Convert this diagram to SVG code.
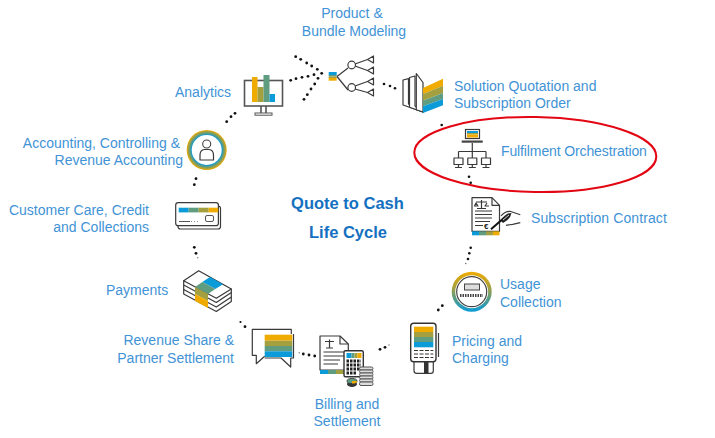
<svg xmlns="http://www.w3.org/2000/svg" width="715" height="438" viewBox="0 0 715 438">
<style>
.t{font-family:"Liberation Sans",Arial,sans-serif;font-size:14px;fill:#3f93d6}
.h{font-family:"Liberation Sans",Arial,sans-serif;font-size:16.5px;font-weight:bold;fill:#1470c0;text-anchor:middle}
.i{fill:none;stroke:#3a3a3a;stroke-width:1.2;stroke-linejoin:round}
.w{fill:#fff;stroke:#3a3a3a;stroke-width:1.2;stroke-linejoin:round}
.o{fill:#f0ab00}.l{fill:#a5a03f}.g{fill:#5f9c80}.b{fill:#0a9bd8}
.d{fill:#111}
</style>
<defs>
<linearGradient id="ring" x1="0" y1="0" x2="0" y2="1">
<stop offset="0" stop-color="#f0ab00"/><stop offset=".4" stop-color="#a5a03f"/><stop offset=".65" stop-color="#5f9c80"/><stop offset="1" stop-color="#0a9bd8"/>
</linearGradient>
<radialGradient id="ring2" cx=".5" cy=".5" r=".5">
<stop offset=".75" stop-color="#0a9bd8"/><stop offset=".84" stop-color="#5f9c80"/><stop offset=".92" stop-color="#a5a03f"/><stop offset="1" stop-color="#f0ab00"/>
</radialGradient>
<g id="pc"><rect class="w" x="-4.5" y="0" width="9" height="6.5"/><path class="i" d="M0 6.5V9M-3.5 9.5H3.5" stroke-width="1.6"/></g>
</defs>

<g id="connectors">
<g class="d">
<circle cx="295.7" cy="56.7" r="1.4"/><circle cx="300.7" cy="59.3" r="1.4"/><circle cx="306.7" cy="63" r="1.4"/><circle cx="311.7" cy="66" r="1.4"/><circle cx="317.3" cy="69.3" r="1.4"/><circle cx="321.7" cy="73.3" r="1.4"/>
<circle cx="290.7" cy="80.3" r="1.4"/><circle cx="296" cy="78.7" r="1.4"/><circle cx="302" cy="77.3" r="1.4"/><circle cx="308" cy="76.3" r="1.4"/><circle cx="314" cy="74.7" r="1.4"/>
<circle cx="304" cy="99.3" r="1.4"/><circle cx="307.3" cy="94.7" r="1.4"/><circle cx="311" cy="89" r="1.4"/><circle cx="314.7" cy="84" r="1.4"/><circle cx="318" cy="78.3" r="1.4"/>
<circle cx="384" cy="84" r="1.3"/><circle cx="390" cy="86" r="1.3"/><circle cx="395" cy="88.3" r="1.3"/>
<circle cx="441.7" cy="125" r="1.3"/>
<circle cx="469" cy="176.7" r="1.3"/><circle cx="470.7" cy="182.7" r="1.3"/>
<circle cx="470.7" cy="247.7" r="1.3"/><circle cx="469.3" cy="253.3" r="1.3"/><circle cx="468" cy="259" r="1.3"/><circle cx="465.7" cy="263.5" r=".8" opacity=".6"/>
<circle cx="442.3" cy="305.7" r="1.4"/><circle cx="438.3" cy="310" r="1.4"/>
<circle cx="385" cy="347.3" r="1.4"/><circle cx="380" cy="349.3" r="1.4"/><circle cx="389" cy="345" r=".8" opacity=".5"/>
<circle cx="314.7" cy="356" r="1.4"/><circle cx="309" cy="355" r="1.4"/><circle cx="303.3" cy="354" r="1.4"/><circle cx="299.3" cy="352.7" r=".8" opacity=".5"/>
<circle cx="245" cy="326.7" r="1.4"/><circle cx="240.5" cy="322" r="1.1"/>
<circle cx="194.3" cy="247.3" r="1.4"/><circle cx="196" cy="253.3" r="1.4"/><circle cx="197.7" cy="257.7" r=".8" opacity=".5"/>
<circle cx="196" cy="178.7" r="1.4"/><circle cx="194.3" cy="184.7" r="1.4"/>
<circle cx="235" cy="113.3" r="1.4"/><circle cx="231" cy="116.7" r="1.4"/><circle cx="226.7" cy="121.7" r="1.4"/>
</g>
</g>

<g id="n-product">
<rect class="b" x="328.7" y="72" width="8" height="3"/><rect class="g" x="328.7" y="75" width="8" height="1.5"/><rect class="l" x="328.7" y="76.5" width="8" height="1.5"/><rect class="o" x="328.7" y="78" width="8" height="2.7"/>
<path class="i" d="M337 76.5L348 68M337 76.5L348 90M355 64L367.5 59.5M355 66L367.5 70.5M355 86L367.5 81.5M355 89L367.5 92.5"/>
<circle class="w" cx="351.7" cy="65" r="3.8"/><circle class="w" cx="351.7" cy="87.5" r="3.8"/>
<path class="w" d="M367.5 59.5L373.5 56V63ZM367.5 70.5L373.5 67V74ZM367.5 81.5L373.5 78V85ZM367.5 92.5L373.5 89V96Z"/>
<text class="t" x="352" y="18" text-anchor="middle">Product &amp;</text>
<text class="t" x="354" y="36" text-anchor="middle">Bundle Modeling</text>
</g>

<g id="n-analytics">
<rect x="244.5" y="80.5" width="38" height="25.5" fill="#fff" stroke="#555" stroke-width="1.6"/>
<rect class="o" x="252" y="77" width="5.5" height="25"/><rect class="l" x="257.5" y="87" width="6" height="15"/><rect class="g" x="263.5" y="75" width="6" height="27"/><rect class="b" x="269.5" y="94" width="5.5" height="8"/>
<path fill="none" stroke="#555" stroke-width="1.6" d="M261 106V113M266 106V113"/><rect x="255" y="113" width="17" height="2.2" fill="#fff" stroke="#555"/>
<text class="t" x="175" y="97">Analytics</text>
</g>

<g id="n-quotation">
<path class="w" d="M403 80L408.5 78.7V104L423 112L403 105Z"/>
<path class="w" d="M409.500 77.500L415 76V106L423 112L409.500 107.300Z"/>
<path class="w" d="M416.300 73.500L423 82.500V112L416.300 109.700Z"/>
<path class="o" d="M423 88L443 78.700V85.700L423 94Z"/><path class="l" d="M423 94L443 85.700V93L423 100.700Z"/><path class="g" d="M423 100.700L443 93V99L423 106.300Z"/><path class="b" d="M423 106.300L443 99V105.300L423 113Z"/>
<text class="t" x="454" y="91">Solution Quotation and</text>
<text class="t" x="454" y="108">Subscription Order</text>
</g>

<g id="n-fulfilment">
<ellipse cx="535.3" cy="154.5" rx="121" ry="37.5" fill="none" stroke="#e30613" stroke-width="2" transform="rotate(1 535.3 154.5)"/>
<rect x="465.5" y="129.5" width="14" height="9" fill="#fff" stroke="#3a3a3a" stroke-width="1.2"/>
<rect class="b" x="467" y="131" width="11" height="2"/><rect class="l" x="467" y="133" width="11" height="1.5"/><rect class="o" x="467" y="134.5" width="11" height="3"/>
<rect x="461.7" y="140.5" width="21" height="2.2" fill="#444"/>
<path class="i" d="M472.3 143V158M458.5 151.5H486M458.5 151.5V158M486 151.5V158"/>
<use href="#pc" x="458.5" y="158"/><use href="#pc" x="472.3" y="158"/><use href="#pc" x="486" y="158"/>
<text class="t" x="501" y="156" letter-spacing="-.12">Fulfilment Orchestration</text>
</g>

<g id="n-contract">
<path class="w" d="M472 197.7H492L499.5 205.3V231.3H472Z"/><path class="i" d="M492 197.7V205.3H499.5"/>
<path class="i" stroke-width="1" d="M476 202H487M481.5 200V208.5M477 208.5H486M476 203L474.5 206H478ZM487 203L485 206H489M475 211H492M475 214.5H492M475 218H492M475 221.5H490M475 225.5H483"/>
<text x="484" y="229" font-family="Liberation Sans,sans-serif" font-size="8" font-weight="bold" fill="#222">€</text>
<rect class="b" x="472" y="231.3" width="7" height="4"/><rect class="g" x="479" y="231.3" width="7" height="4"/><rect class="l" x="486" y="231.3" width="7" height="4"/><rect class="o" x="493" y="231.3" width="6.5" height="4"/>
<path class="i" d="M501 216Q505 211 510 211.3L520.3 214.7M506 225.3L512.7 224.3L520.3 222.7"/>
<path fill="none" stroke="#111" stroke-width="2" d="M491 229.3L505 217"/>
<path fill="#222" d="M501 221Q505 213 511.5 213Q510 220 503 223Z"/>
<path fill="none" stroke="#fff" stroke-width=".8" d="M503 220L509 215"/>
<text class="t" x="531" y="223" letter-spacing=".1">Subscription Contract</text>
</g>

<g id="n-usage">
<circle cx="471.7" cy="291.7" r="20" fill="url(#ring)"/><circle cx="471.7" cy="291.7" r="16.5" fill="#fff"/>
<circle cx="471.7" cy="291.7" r="15" fill="#fff" stroke="#444" stroke-width="1.2"/>
<rect x="464.5" y="284" width="15" height="6" fill="#ddd" stroke="#444"/>
<path stroke="#444" stroke-width="3" stroke-dasharray="1.5 1" d="M460 295.5H483"/>
<text class="t" x="500" y="289">Usage</text>
<text class="t" x="500" y="306.7">Collection</text>
</g>

<g id="n-pricing">
<rect x="410.7" y="323.3" width="25.3" height="38.4" rx="3" fill="#fff" stroke="#333" stroke-width="1.4"/>
<path class="i" d="M414 361.7V371Q414 373.3 417 373.3H431Q433.3 373.3 433.3 371V361.7"/><rect x="424" y="362" width="4.5" height="11" fill="#333"/>
<path class="i" d="M438.5 333V357"/>
<rect class="o" x="414" y="326.7" width="19.3" height="5.5"/><rect class="l" x="414" y="332" width="19.3" height="5"/><rect class="g" x="414" y="337" width="19.3" height="5"/><rect class="b" x="414" y="342" width="19.3" height="5.3"/>
<path stroke="#333" stroke-width="1.2" stroke-dasharray="4 1.5" fill="none" d="M414 350.5H433.3M414 354H433.3M414 357.5H433.3"/>
<text class="t" x="452" y="346">Pricing and</text>
<text class="t" x="452" y="362.7">Charging</text>
</g>

<g id="n-billing">
<path class="w" d="M320 336H340L348.3 344V370H320Z"/><path class="i" d="M340 336V344H348.3"/>
<path class="i" stroke-width="1" d="M325 341.5H334M329.5 339.5V348M326 348H333M323.5 352H344M323.5 356H344M323.5 360H340M323.5 364H338"/>
<rect class="b" x="320" y="370" width="8" height="4"/><rect class="g" x="328" y="370" width="8" height="4"/><rect class="l" x="336" y="370" width="8" height="4"/>
<rect x="344" y="350.7" width="19.3" height="26" rx="1.5" fill="#fff" stroke="#333" stroke-width="1.4"/>
<rect class="b" x="346.5" y="353" width="5" height="5"/><rect class="g" x="351.5" y="353" width="3" height="5"/><rect class="l" x="354.5" y="353" width="3" height="5"/><rect class="o" x="357.5" y="353" width="4" height="5"/>
<path stroke="#222" stroke-width="3" stroke-dasharray="2.5 1" fill="none" d="M346.5 361H361M346.5 365H361M346.5 369H361M346.5 373H356"/>
<g fill="#ddd" stroke="#555" stroke-width="1">
<rect x="359.5" y="367" width="13.5" height="3" rx="1.5"/><rect x="359.5" y="370" width="13.5" height="3" rx="1.5"/><rect x="359.5" y="373" width="13.5" height="3" rx="1.5"/><rect x="359.5" y="376" width="13.5" height="3" rx="1.5"/><rect x="359.5" y="379" width="13.5" height="3" rx="1.5"/><rect x="359.5" y="382" width="13.5" height="3.5" rx="1.5"/>
</g>
<ellipse cx="352" cy="384" rx="5" ry="3" fill="#333"/><ellipse cx="352" cy="381" rx="5" ry="2.6" fill="#5f9c80" stroke="#333" stroke-width=".8"/><path fill="#f0ab00" d="M352 381H357A5 2.6 0 0 1 352 383.6Z"/>
<text class="t" x="347" y="408.7" text-anchor="middle">Billing and</text>
<text class="t" x="347" y="426" text-anchor="middle">Settlement</text>
</g>

<g id="n-revenue">
<path class="i" d="M291.3 334V329.3H252.3V355.3H256.3V363.7L264.7 356.3"/>
<path class="i" d="M264.7 358H281L290.7 367V358H293.5V334"/>
<rect class="o" x="264.7" y="334.7" width="27.6" height="6"/><rect class="l" x="264.7" y="340.7" width="27.6" height="5.3"/><rect class="g" x="264.7" y="346" width="27.6" height="5.3"/><rect class="b" x="264.7" y="351.3" width="27.6" height="5.7"/>
<text class="t" x="234" y="345" text-anchor="end">Revenue Share &amp;</text>
<text class="t" x="234" y="363" text-anchor="end">Partner Settlement</text>
</g>

<g id="n-payments">
<path class="w" d="M183.7 289.5V294L216.3 311.5L231.3 301.5V297Z"/>
<path class="w" d="M183.7 285V289.5L216.3 307L231.3 297V292.5Z"/>
<path class="w" d="M183.7 280.7V285L216.3 302.5L231.3 292.5V289Z"/>
<path class="w" d="M198.7 270.7L231.3 289L216.3 298.3L183.7 280.7Z"/>
<path class="b" d="M210 277L223 284.3L215.3 289L202.3 282Z"/>
<path class="g" d="M202.3 282L215.3 289L208 294L195 287Z"/>
<path class="l" d="M195 287L208 294V301L195 294Z"/>
<path class="o" d="M195 294L208 301V308L195 301Z"/>
<text class="t" x="106" y="295">Payments</text>
</g>

<g id="n-customer">
<rect x="178" y="206" width="42.5" height="23" rx="2.5" class="w"/>
<rect x="175.7" y="202.7" width="42.7" height="23" rx="2.5" class="w"/>
<rect class="b" x="178.7" y="207.7" width="10" height="4.7"/><rect class="g" x="188.7" y="207.7" width="10" height="4.7"/><rect class="l" x="198.7" y="207.7" width="10" height="4.7"/><rect class="o" x="208.7" y="207.7" width="9.5" height="4.7"/>
<rect x="205.5" y="215.5" width="8" height="6" rx="1.5" fill="none" stroke="#555"/>
<path stroke="#555" fill="none" d="M179 221.5H190"/><path stroke="#888" stroke-dasharray="1 2" fill="none" d="M191 221.5H200"/>
<text class="t" x="149" y="215" text-anchor="end">Customer Care, Credit</text>
<text class="t" x="149" y="232" text-anchor="end">and Collections</text>
</g>

<g id="n-accounting">
<circle cx="206.7" cy="150" r="20" fill="url(#ring2)"/><circle cx="206.7" cy="150" r="15" fill="#fff"/>
<circle cx="206.7" cy="144" r="4" fill="#fff" stroke="#444" stroke-width="1.1"/>
<path class="i" d="M200 160V155Q200 150 204.5 149.5H209Q213.5 150 213.5 155V160Z"/>
<text class="t" x="180" y="148" text-anchor="end">Accounting, Controlling &amp;</text>
<text class="t" x="183" y="165" text-anchor="end">Revenue Accounting</text>
</g>

<g id="title">
<text class="h" x="347.5" y="209">Quote to Cash</text>
<text class="h" x="348" y="238">Life Cycle</text>
</g>
</svg>
